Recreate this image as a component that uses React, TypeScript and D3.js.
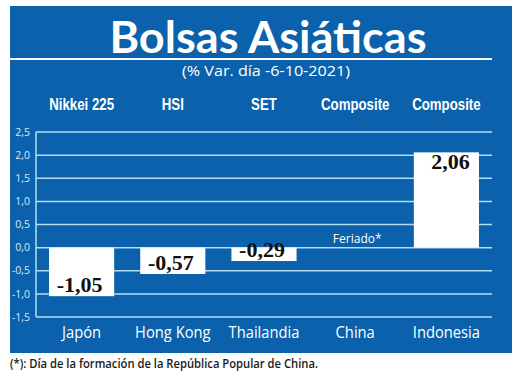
import React from "react";
import * as d3 from "d3";

const countries = ["Japón", "Hong Kong", "Thailandia", "China", "Indonesia"];
const indices = ["Nikkei 225", "HSI", "SET", "Composite", "Composite"];
const values: (number | null)[] = [-1.05, -0.57, -0.29, null, 2.06];
const yTicks = [2.5, 2.0, 1.5, 1.0, 0.5, 0.0, -0.5, -1.0, -1.5];
const title = "Bolsas Asiáticas";
const subtitle = "(% Var. día -6-10-2021)";
const holidayNote = "Feriado*";
const footnote = "(*): Día de la formación de la República Popular de China.";

const W = 520;
const H = 376;
const BLUE = "#0b61ab";
const GRID = "#b5dcf3";

const fmt = (v: number, d: number) => v.toFixed(d).replace(".", ",");

export default function App() {
  const x = d3
    .scaleBand<string>()
    .domain(countries)
    .range([36, 492])
    .paddingInner(0.286)
    .paddingOuter(0.143);
  const y = d3.scaleLinear().domain([-1.5, 2.5]).range([317, 132]);

  return (
    <svg
      width={W}
      height={H}
      viewBox={`0 0 ${W} ${H}`}
      style={{ position: "absolute", left: 0, top: 0, background: "#fff" }}
    >
      <rect x={10} y={6} width={502} height={347} fill={BLUE} />
      <text
        x={268}
        y={53}
        textAnchor="middle"
        fill="#fff"
        fontFamily="Lato, 'Open Sans', sans-serif"
        fontWeight={700}
        fontSize={43}
        textLength={317}
        lengthAdjust="spacingAndGlyphs"
      >
        {title}
      </text>
      <line x1={10} x2={492} y1={59} y2={59} stroke="#fff" strokeWidth={2} />
      <text
        x={266}
        y={76}
        textAnchor="middle"
        fill="#fff"
        fontFamily="'Open Sans', sans-serif"
        fontSize={14.5}
        textLength={168}
        lengthAdjust="spacingAndGlyphs"
      >
        {subtitle}
      </text>

      {indices.map((s, i) => (
        <text
          key={"h" + i}
          transform={`translate(${(x(countries[i]) as number) + x.bandwidth() / 2},110) scale(0.78,1)`}
          textAnchor="middle"
          fill="#fff"
          fontFamily="'Liberation Sans', sans-serif"
          fontWeight={700}
          fontSize={17}
        >
          {s}
        </text>
      ))}

      {yTicks.map((t) => (
        <g key={"t" + t}>
          <line
            x1={36}
            x2={492}
            y1={y(t)}
            y2={y(t)}
            stroke={GRID}
            strokeWidth={1.5}
          />
          <text
            x={30}
            y={y(t)}
            dy="0.35em"
            textAnchor="end"
            fill="#d6eaf8"
            fontFamily="'Open Sans', sans-serif"
            fontSize={10.5}
          >
            {fmt(t, 1)}
          </text>
        </g>
      ))}
      <line x1={36} x2={36} y1={y(2.5)} y2={y(-1.5)} stroke={GRID} strokeWidth={1.5} />

      {countries.map((c, i) => {
        const v = values[i];
        const bx = x(c) as number;
        const cx = bx + x.bandwidth() / 2;
        if (v === null) {
          return (
            <text
              key={"b" + i}
              x={cx + 2}
              y={y(0) - 5}
              textAnchor="middle"
              fill="#fff"
              fontFamily="'Open Sans', sans-serif"
              fontSize={12}
            >
              {holidayNote}
            </text>
          );
        }
        const top = Math.min(y(v), y(0));
        const h = Math.abs(y(v) - y(0));
        const ly = v < 0 ? y(v) - 4 : y(v) + 17;
        return (
          <g key={"b" + i}>
            <rect x={bx} y={top} width={x.bandwidth()} height={h} fill="#fff" />
            <text
              x={cx + (v < 0 ? -2 : 4)}
              y={ly}
              textAnchor="middle"
              fill="#111"
              fontFamily="'Liberation Serif', 'DejaVu Serif', serif"
              fontWeight={700}
              fontSize={22}
            >
              {fmt(v, 2)}
            </text>
          </g>
        );
      })}

      {countries.map((c) => (
        <text
          key={"c" + c}
          transform={`translate(${(x(c) as number) + x.bandwidth() / 2},338) scale(0.92,1)`}
          textAnchor="middle"
          fill="#fff"
          fontFamily="'Open Sans', sans-serif"
          fontSize={16}
        >
          {c}
        </text>
      ))}

      <text
        x={10}
        y={368}
        fill="#1a1a1a"
        fontFamily="'Open Sans', sans-serif"
        fontWeight={600}
        fontSize={12}
        textLength={308}
        lengthAdjust="spacingAndGlyphs"
      >
        {footnote}
      </text>
    </svg>
  );
}
